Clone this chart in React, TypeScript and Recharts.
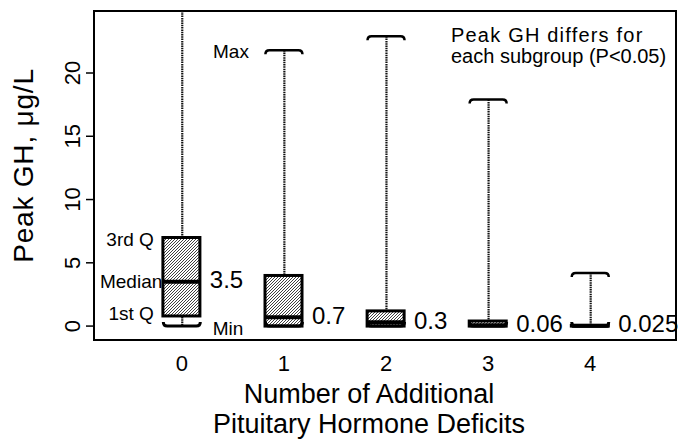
import React from "react";
import {
  ComposedChart,
  Bar,
  Scatter,
  XAxis,
  YAxis,
  ReferenceArea,
  Label,
} from "recharts";

// Peak GH by number of additional pituitary hormone deficits (box plot)
const groups = [0, 1, 2, 3, 4];
const minValues = [0, 0, 0, 0, 0];
const q1Values = [0.8, 0, 0, 0, 0];
const medianValues = [3.5, 0.7, 0.3, 0.06, 0.025];
const q3Values = [7, 4, 1.2, 0.4, 0.05];
const maxValues = [30, 21.8, 22.9, 17.9, 4.2]; // group 0 runs off the top of the scale
const medianLabels = ["3.5", "0.7", "0.3", "0.06", "0.025"];
const xTicks = [0, 1, 2, 3, 4];
const yTicks = [0, 5, 10, 15, 20];

const rows = groups.map((g, i) => ({
  g,
  min: minValues[i],
  q1: q1Values[i],
  median: medianValues[i],
  q3: q3Values[i],
  max: maxValues[i],
  label: medianLabels[i],
}));

const FONT = '"Liberation Sans", Arial, Helvetica, sans-serif';
const HALF = 18.5;
const X_DOMAIN: [number, number] = [-0.86, 4.84];
const Y_DOMAIN: [number, number] = [-1.1, 24.9];

// y tick labels sit on the left edge of the plot, read bottom-to-top
const yTickRows = yTicks.map((v) => ({ g: X_DOMAIN[0], v }));

function WhiskerShape(p: any) {
  const cx = p.x + p.width / 2;
  const top = Math.min(p.y, p.y + p.height);
  const bottom = Math.max(p.y, p.y + p.height);
  return (
    <line
      x1={cx}
      x2={cx}
      y1={top}
      y2={bottom}
      stroke="#111"
      strokeWidth={2.2}
      strokeDasharray="1.5 0.8"
    />
  );
}

function BoxShape(p: any) {
  const top = Math.min(p.y, p.y + p.height);
  const h = Math.abs(p.height);
  const first = p.payload && p.payload.g === 0;
  return (
    <g>
      <rect
        x={p.x}
        y={top}
        width={p.width}
        height={h}
        fill="url(#hatch)"
        stroke="#000"
        strokeWidth={3}
      />
      {first && (
        <g fontFamily={FONT} fontSize={19} fill="#000" textAnchor="end">
          <text x={p.x - 9} y={top + 2} dominantBaseline="central">
            3rd Q
          </text>
          <text x={p.x - 9} y={top + h - 2} dominantBaseline="central">
            1st Q
          </text>
        </g>
      )}
    </g>
  );
}

function MedianShape(p: any) {
  const { cx, cy, payload } = p;
  return (
    <g>
      <line
        x1={cx - HALF}
        x2={cx + HALF}
        y1={cy}
        y2={cy}
        stroke="#000"
        strokeWidth={4}
      />
      <text
        x={cx + 28}
        y={cy - 2}
        fontFamily={FONT}
        fontSize={24}
        dominantBaseline="central"
        fill="#000"
      >
        {payload.label}
      </text>
      {payload.g === 0 && (
        <text
          x={cx - HALF - 1}
          y={cy}
          fontFamily={FONT}
          fontSize={19}
          textAnchor="end"
          dominantBaseline="central"
          fill="#000"
        >
          Median
        </text>
      )}
    </g>
  );
}

function MinShape(p: any) {
  const { cx, cy, payload } = p;
  return (
    <g>
      <path
        d={`M${cx - HALF},${cy - 4} Q${cx - HALF},${cy} ${cx - HALF + 4},${cy} L${cx + HALF - 4},${cy} Q${cx + HALF},${cy} ${cx + HALF},${cy - 4}`}
        fill="none"
        stroke="#000"
        strokeWidth={3}
      />
      {payload.g === 0 && (
        <text
          x={cx + 31}
          y={cy + 2}
          fontFamily={FONT}
          fontSize={19}
          dominantBaseline="central"
          fill="#000"
        >
          Min
        </text>
      )}
    </g>
  );
}

function MaxShape(p: any) {
  const { cx, cy, payload } = p;
  // a maximum beyond the axis has no visible cap
  if (payload.max > Y_DOMAIN[1]) return <g />;
  return (
    <g>
      <path
        d={`M${cx - HALF},${cy + 4} Q${cx - HALF},${cy} ${cx - HALF + 4},${cy} L${cx + HALF - 4},${cy} Q${cx + HALF},${cy} ${cx + HALF},${cy + 4}`}
        fill="none"
        stroke="#000"
        strokeWidth={2.5}
      />
      {payload.g === 1 && (
        <text
          x={cx - 35}
          y={cy + 1}
          fontFamily={FONT}
          fontSize={19}
          textAnchor="end"
          dominantBaseline="central"
          fill="#000"
        >
          Max
        </text>
      )}
    </g>
  );
}

function YTickMark(p: any) {
  const { cx, cy, payload } = p;
  const bx = cx - 14;
  return (
    <g>
      <line x1={cx - 8} x2={cx} y1={cy} y2={cy} stroke="#000" strokeWidth={1.5} />
      <g transform={`rotate(-90, ${bx}, ${cy})`}>
        <text
          x={bx}
          y={cy}
          textAnchor="middle"
          fontFamily={FONT}
          fontSize={22}
          fill="#000"
        >
          {payload.v}
        </text>
      </g>
    </g>
  );
}

function renderXTick(p: any) {
  return (
    <text
      key={`xt-${p.payload.value}`}
      x={p.x}
      y={p.y + 31}
      textAnchor="middle"
      fontFamily={FONT}
      fontSize={22}
      fill="#000"
    >
      {p.payload.value}
    </text>
  );
}

function XTitle(props: any) {
  const vb = props.viewBox;
  const cx = vb.x + 275;
  return (
    <g fontFamily={FONT} fontSize={27} fill="#000" textAnchor="middle">
      <text x={cx} y={vb.y + 63}>
        Number of Additional
      </text>
      <text x={cx} y={vb.y + 93}>
        Pituitary Hormone Deficits
      </text>
    </g>
  );
}

function YTitle(props: any) {
  const vb = props.viewBox;
  const bx = 33;
  const cy = vb.y + vb.height / 2 - 10;
  return (
    <g transform={`rotate(-90, ${bx}, ${cy})`}>
      <text
        x={bx}
        y={cy}
        textAnchor="middle"
        fontFamily={FONT}
        fontSize={28}
        letterSpacing={0.8}
        fill="#000"
      >
        Peak GH, μg/L
      </text>
    </g>
  );
}

function Note(props: any) {
  const vb = props.viewBox;
  const left = vb.x + vb.width - 225;
  return (
    <g fontFamily={FONT} fontSize={20} fill="#000">
      <text x={left} y={vb.y + 31} letterSpacing={1.2}>
        Peak GH differs for
      </text>
      <text x={left} y={vb.y + 52}>
        {"each subgroup (P<0.05)"}
      </text>
    </g>
  );
}

export default function App() {
  return (
    <div style={{ position: "absolute", left: 0, top: 0, background: "#fff" }}>
      <ComposedChart
        width={684}
        height={444}
        data={rows}
        margin={{ top: 11, right: 8, bottom: 0, left: 0 }}
      >
        <defs>
          <pattern
            id="hatch"
            patternUnits="userSpaceOnUse"
            width={3}
            height={3}
          >
            <rect width={3} height={3} fill="#fff" />
            <path
              d="M-1,1 l2,-2 M0,3 l3,-3 M2,4 l2,-2"
              stroke="#2a2a2a"
              strokeWidth={0.9}
            />
          </pattern>
        </defs>

        <XAxis
          xAxisId="box"
          dataKey="g"
          type="number"
          domain={X_DOMAIN}
          ticks={xTicks}
          axisLine={false}
          tickLine={false}
          tickSize={0}
          tickMargin={0}
          height={104}
          tick={renderXTick}
          label={XTitle}
        />
        <XAxis
          xAxisId="whisker"
          dataKey="g"
          type="number"
          domain={X_DOMAIN}
          hide
        />
        <YAxis
          type="number"
          domain={Y_DOMAIN}
          ticks={yTicks}
          allowDataOverflow
          width={94}
          axisLine={false}
          tickLine={false}
          tick={false}
          label={YTitle}
        />

        <ReferenceArea
          xAxisId="box"
          x1={X_DOMAIN[0]}
          x2={X_DOMAIN[1]}
          y1={Y_DOMAIN[0]}
          y2={Y_DOMAIN[1]}
          fill="none"
          fillOpacity={0}
          stroke="#000"
          strokeWidth={2}
        >
          <Label content={Note} />
        </ReferenceArea>

        {/* whiskers, min to max (cut at the top of the axis), behind the boxes */}
        <Bar
          xAxisId="whisker"
          dataKey={(d: any) => [d.min, Math.min(d.max, Y_DOMAIN[1])]}
          barSize={37}
          shape={WhiskerShape}
          isAnimationActive={false}
        />
        {/* boxes, Q1 to Q3 */}
        <Bar
          xAxisId="box"
          dataKey={(d: any) => [d.q1, d.q3]}
          barSize={37}
          shape={BoxShape}
          isAnimationActive={false}
        />
        <Scatter
          xAxisId="box"
          dataKey="max"
          shape={MaxShape}
          isAnimationActive={false}
        />
        <Scatter
          xAxisId="box"
          dataKey="min"
          shape={MinShape}
          isAnimationActive={false}
        />
        <Scatter
          xAxisId="box"
          dataKey="median"
          shape={MedianShape}
          isAnimationActive={false}
        />
        {/* rotated y tick labels with outward tick marks */}
        <Scatter
          xAxisId="box"
          data={yTickRows}
          dataKey="v"
          shape={YTickMark}
          isAnimationActive={false}
        />
      </ComposedChart>
    </div>
  );
}
